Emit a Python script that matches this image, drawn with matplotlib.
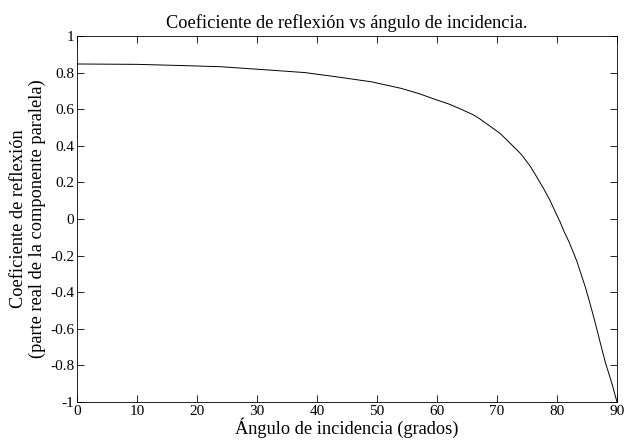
import matplotlib
matplotlib.use("Agg")
import matplotlib.pyplot as plt
from matplotlib.ticker import FuncFormatter

# Values
angles = [0, 10, 18, 24, 32, 38, 43, 49, 54, 57, 60, 62, 64, 66, 67, 68.5,
          70.5, 72, 74, 75.5, 76.6, 77.7, 78.8, 79.7, 80.5, 81.2, 82, 83.3,
          84.7, 85.4, 86.1, 86.7, 87.2, 88.1, 88.6, 89.2, 90]
coef = [0.847, 0.845, 0.838, 0.832, 0.814, 0.80, 0.778, 0.75, 0.714, 0.685,
        0.65, 0.628, 0.60, 0.57, 0.55, 0.515, 0.468, 0.42, 0.355, 0.29,
        0.231, 0.17, 0.104, 0.04, -0.015, -0.07, -0.125, -0.23, -0.37,
        -0.45, -0.534, -0.61, -0.675, -0.789, -0.84, -0.905, -1.0]

x_ticks = [0, 10, 20, 30, 40, 50, 60, 70, 80, 90]
y_ticks = [-1, -0.8, -0.6, -0.4, -0.2, 0, 0.2, 0.4, 0.6, 0.8, 1]

plt.rcParams["font.family"] = ["Liberation Serif", "DejaVu Serif"]
plt.rcParams["axes.unicode_minus"] = False

fig = plt.figure(figsize=(6.24, 4.41), dpi=100)
ax = fig.add_axes([0.1234, 0.0884, 0.8654, 0.83])

ax.plot(angles, coef, color="black", linewidth=0.7)

ax.set_xlim(0, 90)
ax.set_ylim(-1, 1)
ax.set_xticks(x_ticks)
ax.set_yticks(y_ticks)
ax.yaxis.set_major_formatter(FuncFormatter(lambda v, p: "%g" % round(v, 1)))

ax.tick_params(direction="in", top=True, right=True, length=5, width=0.6,
               labelsize=11, pad=2)
for s in ax.spines.values():
    s.set_linewidth(0.6)

ax.set_title("Coeficiente de reflexión vs ángulo de incidencia.", fontsize=13.2,
             pad=6)
ax.set_xlabel("Ángulo de incidencia (grados)", fontsize=13.2, labelpad=0)
ax.set_ylabel("Coeficiente de reflexión\n(parte real de la componente paralela)",
              fontsize=13.2, labelpad=3, linespacing=1.1)

fig.savefig("out.png", dpi=100)
